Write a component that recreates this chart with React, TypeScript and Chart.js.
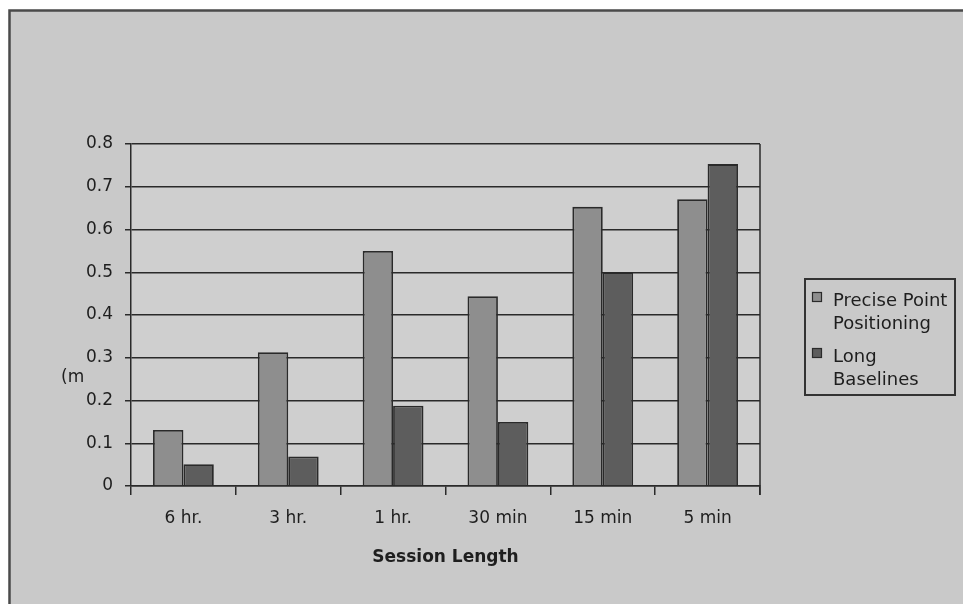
import React, { useEffect, useRef } from "react";
import { Chart, registerables } from "chart.js";

Chart.register(...registerables);

const categories = ["6 hr.", "3 hr.", "1 hr.", "30 min", "15 min", "5 min"];
const pppValues = [0.131, 0.313, 0.55, 0.444, 0.653, 0.671];
const longBaselineValues = [0.051, 0.069, 0.188, 0.15, 0.5, 0.753];
const seriesNames = [["Precise Point", "Positioning"], ["Long", "Baselines"]];
const yAxisLabel = "(m";
const xAxisLabel = "Session Length";

const FONT = "'DejaVu Sans', sans-serif";
const TEXT = "#1e1e1e";
const LINE = "#2a2a2a";
const OUTER_BG = "#c9c9c9";
const PLOT_BG = "#cfcfcf";
const PPP_COLOR = "#8e8e8e";
const LB_COLOR = "#5d5d5d";

const decorPlugin = {
  id: "decor",
  beforeDraw(chart: any) {
    const { ctx, width, height, chartArea } = chart;
    ctx.save();
    ctx.fillStyle = "#ffffff";
    ctx.fillRect(0, 0, width, height);
    ctx.fillStyle = OUTER_BG;
    ctx.fillRect(9, 10, width - 9, height - 10);
    ctx.strokeStyle = "#4a4a4a";
    ctx.lineWidth = 2.5;
    ctx.beginPath();
    ctx.moveTo(9.5, height);
    ctx.lineTo(9.5, 10.5);
    ctx.lineTo(width, 10.5);
    ctx.stroke();
    ctx.fillStyle = PLOT_BG;
    ctx.fillRect(chartArea.left, chartArea.top, chartArea.right - chartArea.left, chartArea.bottom - chartArea.top);
    ctx.restore();
  },
  afterDraw(chart: any) {
    const { ctx, chartArea } = chart;
    ctx.save();
    ctx.strokeStyle = LINE;
    ctx.lineWidth = 1.5;
    ctx.beginPath();
    ctx.moveTo(chartArea.right, chartArea.top);
    ctx.lineTo(chartArea.right, chartArea.bottom + 9);
    ctx.stroke();

    ctx.fillStyle = TEXT;
    ctx.font = `17px ${FONT}`;
    ctx.textAlign = "left";
    ctx.textBaseline = "alphabetic";
    ctx.fillText(yAxisLabel, 61, 382);

    ctx.font = `bold 17px ${FONT}`;
    ctx.textAlign = "center";
    ctx.fillText(xAxisLabel, (chartArea.left + chartArea.right) / 2, 561.5);

    const lx = 805, ly = 279, lw = 150, lh = 116;
    ctx.strokeStyle = "#333333";
    ctx.lineWidth = 2;
    ctx.strokeRect(lx, ly, lw, lh);
    const colors = [PPP_COLOR, LB_COLOR];
    const baselines = [305.5, 361.5];
    ctx.font = `18px ${FONT}`;
    ctx.textAlign = "left";
    seriesNames.forEach((lines, i) => {
      const by = baselines[i];
      ctx.fillStyle = colors[i];
      ctx.fillRect(812.5, by - 13, 9, 9);
      ctx.strokeStyle = LINE;
      ctx.lineWidth = 1.2;
      ctx.strokeRect(812.5, by - 13, 9, 9);
      ctx.fillStyle = TEXT;
      lines.forEach((t, j) => ctx.fillText(t, 833, by + j * 23.5));
    });
    ctx.restore();
  },
};

export default function App() {
  const ref = useRef<HTMLCanvasElement>(null);
  useEffect(() => {
    if (!ref.current) return;
    const chart = new Chart(ref.current, {
      type: "bar",
      data: {
        labels: categories,
        datasets: [
          {
            label: seriesNames[0].join(" "),
            data: pppValues,
            backgroundColor: PPP_COLOR,
            borderColor: LINE,
            borderWidth: 1.8,
          },
          {
            label: seriesNames[1].join(" "),
            data: longBaselineValues,
            backgroundColor: LB_COLOR,
            borderColor: LINE,
            borderWidth: 1.8,
          },
        ],
      },
      options: {
        responsive: false,
        animation: false,
        layout: { padding: { top: 144, right: 203, bottom: 0, left: 0 } },
        datasets: { bar: { categoryPercentage: 0.58, barPercentage: 1 } },
        plugins: { legend: { display: false }, tooltip: { enabled: false } },
        scales: {
          x: {
            afterFit(scale: any) {
              scale.height = 118;
            },
            grid: {
              offset: true,
              drawOnChartArea: false,
              drawTicks: true,
              tickLength: 9,
              color: LINE,
              lineWidth: 1.5,
            },
            border: { display: true, color: LINE, width: 1.5 },
            ticks: { font: { family: FONT, size: 17 }, color: TEXT, padding: 13, maxRotation: 0 },
          },
          y: {
            min: 0,
            max: 0.8,
            afterFit(scale: any) {
              scale.width = 131;
            },
            grid: { color: LINE, lineWidth: 1.5, tickLength: 6, drawTicks: true },
            border: { display: true, color: LINE, width: 1.5 },
            ticks: {
              stepSize: 0.1,
              font: { family: FONT, size: 17 },
              color: TEXT,
              padding: 12,
              callback: (v: any) => (Number(v) === 0 ? "0" : Number(v).toFixed(1)),
            },
          },
        },
      },
      plugins: [decorPlugin],
    });
    return () => chart.destroy();
  }, []);
  return (
    <div style={{ position: "absolute", left: 0, top: 0, width: 963, height: 604 }}>
      <canvas ref={ref} width={963} height={604} style={{ display: "block", width: 963, height: 604 }} />
    </div>
  );
}
